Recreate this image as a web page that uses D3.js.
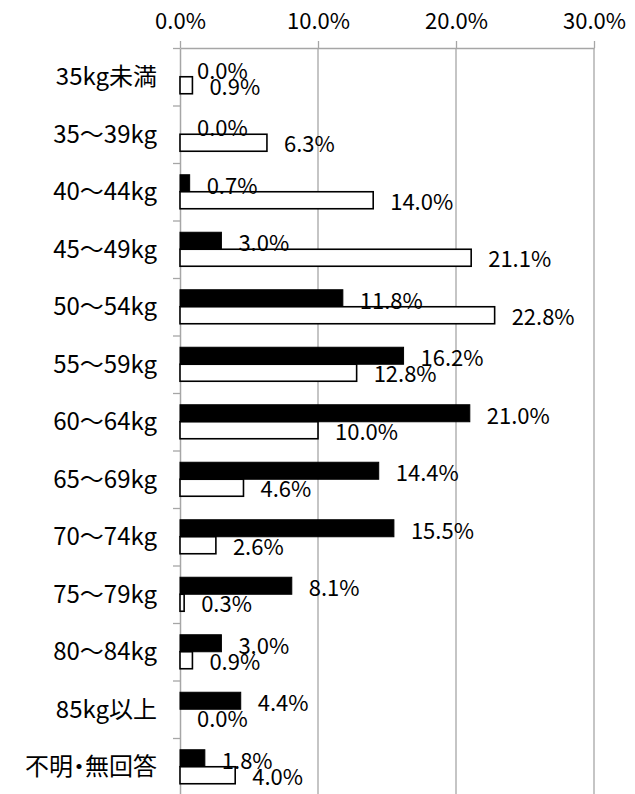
<!DOCTYPE html>
<html>
<head>
<meta charset="utf-8">
<script src="https://cdn.jsdelivr.net/npm/d3@7"></script>
<style>
  body { margin: 0; background: #fff; }
  svg text { font-family: "Noto Sans CJK JP", sans-serif; fill: #000; }
  svg text.cat { font-feature-settings: "palt"; }
</style>
</head>
<body>
<div id="chart"></div>
<script>
var categories = ["35kg未満", "35〜39kg", "40〜44kg", "45〜49kg", "50〜54kg", "55〜59kg",
	"60〜64kg", "65〜69kg", "70〜74kg", "75〜79kg", "80〜84kg", "85kg以上", "不明・無回答"];
var darkValues = [0.0, 0.0, 0.7, 3.0, 11.8, 16.2, 21.0, 14.4, 15.5, 8.1, 3.0, 4.4, 1.8];
var lightValues = [0.9, 6.3, 14.0, 21.1, 22.8, 12.8, 10.0, 4.6, 2.6, 0.3, 0.9, 0.0, 4.0];
var xTicks = [0, 10, 20, 30];

var width = 635, height = 794;
var padding = {left: 180, right: 41, top: 48, bottom: -1.5};
var barH = 17;

var svg = d3.select("#chart")
	.append("svg")
	.attr("width", width)
	.attr("height", height);

var xScale = d3.scaleLinear()
	.domain([0, 30])
	.range([padding.left, width - padding.right]);

var yScale = d3.scaleBand()
	.domain(categories)
	.range([padding.top, height - padding.bottom]);

// boundaries between categories, for the small ticks on the left
var yEdge = d3.scaleLinear()
	.domain([0, categories.length])
	.range([padding.top, height - padding.bottom]);

// gridlines
svg.append("g")
	.selectAll("line")
	.data(xTicks.slice(1))
	.enter().append("line")
	.attr("x1", function(d){ return xScale(d); })
	.attr("x2", function(d){ return xScale(d); })
	.attr("y1", padding.top)
	.attr("y2", height)
	.attr("stroke", "#a6a6a6")
	.attr("stroke-width", 1.3);

var xAxis = d3.axisTop(xScale)
	.tickValues(xTicks)
	.tickFormat(function(d){ return d.toFixed(1) + "%"; })
	.tickSizeInner(7)
	.tickSizeOuter(0)
	.tickPadding(12);

var gx = svg.append("g")
	.attr("transform", "translate(0," + padding.top + ")")
	.call(xAxis);
gx.select(".domain").attr("stroke", "#a6a6a6").attr("stroke-width", 1.5);
gx.selectAll(".tick line").attr("stroke", "#a6a6a6").attr("stroke-width", 1.3);
gx.selectAll("text").style("font-size", "22px").attr("font-family", null);

var yAxis = d3.axisLeft(yEdge)
	.tickValues(d3.range(0, categories.length + 1))
	.tickFormat("")
	.tickSizeInner(7)
	.tickSizeOuter(0);

var gy = svg.append("g")
	.attr("transform", "translate(" + padding.left + ",0)")
	.call(yAxis);
gy.select(".domain").attr("stroke", "#a6a6a6").attr("stroke-width", 1.5);
gy.selectAll(".tick line").attr("stroke", "#a6a6a6").attr("stroke-width", 1.3);

// category labels
svg.append("g")
	.selectAll("text")
	.data(categories)
	.enter().append("text")
	.attr("class", "cat")
	.attr("x", 157)
	.attr("y", function(d){ return yScale(d) + yScale.bandwidth() / 2; })
	.attr("dy", "0.35em")
	.attr("text-anchor", "end")
	.style("font-size", "24px")
	.text(function(d){ return d; });

function mid(i) { return yScale(categories[i]) + yScale.bandwidth() / 2; }

// dark bars
svg.append("g")
	.selectAll("rect")
	.data(darkValues)
	.enter().append("rect")
	.attr("x", xScale(0))
	.attr("y", function(d, i){ return mid(i) - barH; })
	.attr("width", function(d){ return xScale(d) - xScale(0); })
	.attr("height", barH)
	.attr("fill", "#000")
	.attr("stroke", "#000")
	.attr("stroke-width", 1);

// light bars
svg.append("g")
	.selectAll("rect")
	.data(lightValues)
	.enter().append("rect")
	.attr("x", xScale(0))
	.attr("y", function(d, i){ return mid(i); })
	.attr("width", function(d){ return xScale(d) - xScale(0); })
	.attr("height", barH)
	.attr("fill", "#fff")
	.attr("stroke", "#000")
	.attr("stroke-width", 1.6);

// value labels
svg.append("g")
	.selectAll("text")
	.data(darkValues)
	.enter().append("text")
	.attr("x", function(d){ return xScale(d) + 17; })
	.attr("y", function(d, i){ return mid(i) - barH / 2 + 3; })
	.attr("dy", "0.35em")
	.style("font-size", "22px")
	.text(function(d){ return d.toFixed(1) + "%"; });

svg.append("g")
	.selectAll("text")
	.data(lightValues)
	.enter().append("text")
	.attr("x", function(d){ return xScale(d) + 17; })
	.attr("y", function(d, i){ return mid(i) + barH / 2 + 2; })
	.attr("dy", "0.35em")
	.style("font-size", "22px")
	.text(function(d){ return d.toFixed(1) + "%"; });
</script>
</body>
</html>
